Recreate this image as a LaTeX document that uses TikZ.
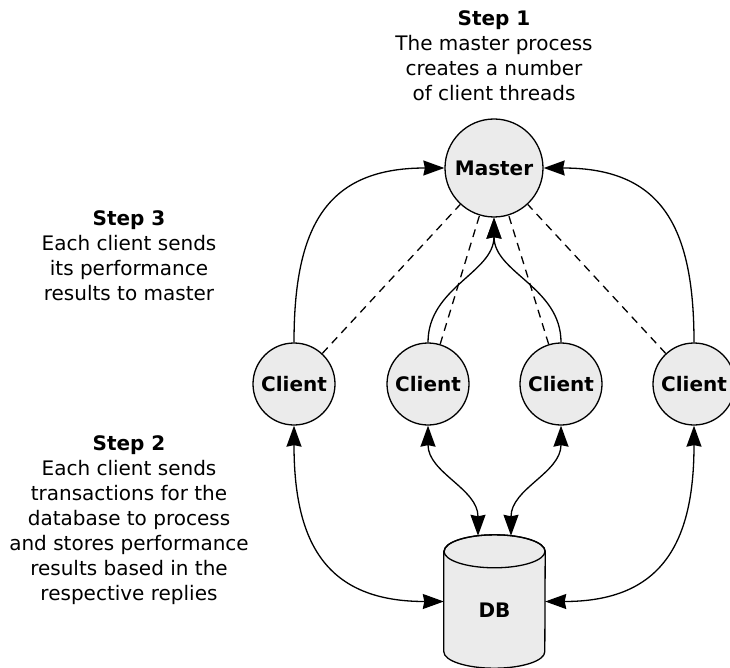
\documentclass[tikz,border=0pt]{standalone}
\usepackage{fontspec}
\setmainfont{DejaVu Sans}
\usetikzlibrary{arrows.meta,calc}
\definecolor{boxgray}{RGB}{235,235,235}
\tikzset{
  txt/.style={font=\fontsize{20}{25}\selectfont,align=center,inner sep=0pt,anchor=north},
  proc/.style={circle,draw,line width=1.3pt,fill=boxgray,inner sep=0pt,
    font=\fontsize{20}{25}\selectfont\bfseries},
  master/.style={proc,minimum size=98pt},
  client/.style={proc,minimum size=82pt},
  tip/.tip={Stealth[length=21pt,width=15pt,inset=1.5pt]},
  link/.style={line width=1.3pt,-tip},
  duplex/.style={line width=1.3pt,tip-tip},
  report/.style={line width=1.3pt,dash pattern=on 8pt off 6pt}
}
\begin{document}
\begin{tikzpicture}[x=1pt,y=-1pt]
\useasboundingbox (0,0) rectangle (730,668);

% captions
\node[txt] (step1) at (494,10) {\textbf{Step 1}\\The master process\\creates a number\\of client threads};
\node[txt] (step3) at (129,210) {\textbf{Step 3}\\Each client sends\\its performance\\results to master};
\node[txt] (step2) at (129,435) {\textbf{Step 2}\\Each client sends\\transactions for the\\database to process\\and stores performance\\results based in the\\respective replies};

% processes
\node[master] (m) at (494,168) {Master};
\node[client] (c1) at (294,384) {Client};
\node[client] (c2) at (428,384) {Client};
\node[client] (c3) at (561,384) {Client};
\node[client] (c4) at (694,384) {Client};

% database cylinder: body box, outline and label
\node[minimum width=101pt,minimum height=133pt,inner sep=0pt] (db) at (494.5,601.5) {};
\filldraw[line width=1.3pt,fill=boxgray]
  ($(db.north west)+(0,16.5)$) -- ($(db.south west)+(0,-16.5)$)
  arc[start angle=180,end angle=0,x radius=50.5,y radius=16.5]
  -- ($(db.north east)+(0,16.5)$)
  arc[start angle=0,end angle=-180,x radius=50.5,y radius=16.5] -- cycle;
\draw[line width=1.3pt] ($(db.north)+(0,16.5)$) ellipse[x radius=50.5,y radius=16.5];
\node[font=\fontsize{20}{25}\selectfont\bfseries,inner sep=0pt] (dblabel) at (494.5,610) {DB};

\coordinate (dbL) at ($(db.north)+(-16.5,1)$);
\coordinate (dbR) at ($(db.north)+(16.5,1)$);

% clients report results to the master
\draw[report] (c1) -- (m);
\draw[report] (c2) -- (m);
\draw[report] (c3) -- (m);
\draw[report] (c4) -- (m);

% master creates the client threads
\draw[link] (c1.north) to[out=90,in=180,looseness=1.3] (m.west);
\draw[link] (c4.north) to[out=90,in=0,looseness=1.3] (m.east);
\draw[link] (c2.north) to[out=90,in=-90] (m.south);
\draw[link] (c3.north) to[out=90,in=-90] (m.south);

% transactions between clients and database
\draw[duplex] (c1.south) to[out=-90,in=180,looseness=1.3] (db.west);
\draw[duplex] (c4.south) to[out=-90,in=0,looseness=1.3] (db.east);
\draw[duplex] (c2.south) to[out=-90,in=90] (dbL);
\draw[duplex] (c3.south) to[out=-90,in=90] (dbR);
\end{tikzpicture}
\end{document}
